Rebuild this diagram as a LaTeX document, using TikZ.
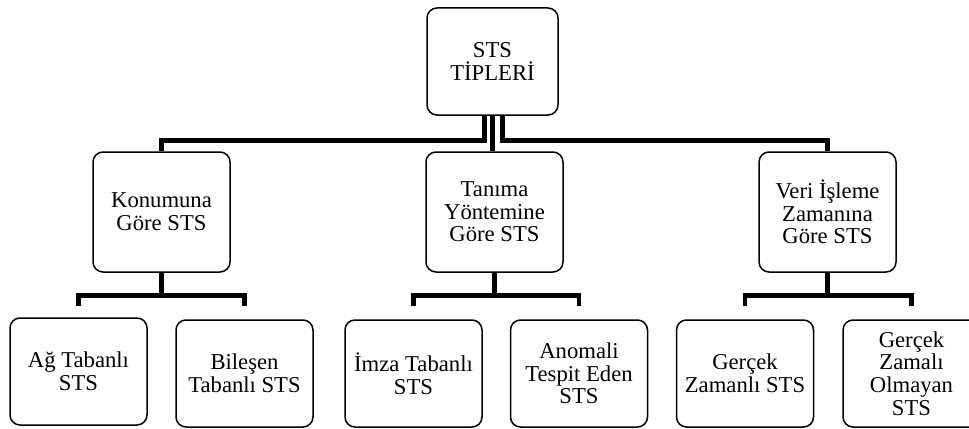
\documentclass[tikz,border=0pt]{standalone}
\usepackage{fontspec}
\setmainfont{Liberation Serif}
\usetikzlibrary{calc}
\newdimen\pxu
\pxu=0.75pt
\tikzset{
  x=0.75pt, y=-0.75pt,
  box/.style={draw=black, line width=1.5\pxu, rounded corners=10\pxu, fill=white,
    minimum width=137\pxu, minimum height=107\pxu, align=center, inner sep=2pt,
    font=\fontsize{17pt}{17pt}\selectfont},
  midbox/.style={box, minimum height=120\pxu},
  topbox/.style={box, minimum width=131\pxu},
  conn/.style={draw=black, line width=4.5\pxu, line join=miter, line cap=butt},
}
\begin{document}
\begin{tikzpicture}
\useasboundingbox (0,0) rectangle (969,428);
\clip (0,0) rectangle (969,428);

% root
\node[topbox] (top) at (492.5,61.5) {STS\\TİPLERİ};

% second level
\node[midbox] (kon)  at (161.5,212) {Konumuna\\Göre STS};
\node[midbox] (tan)  at (494.5,212) {Tanıma\\Yöntemine\\Göre STS};
\node[midbox] (veri) at (827.5,212) {Veri İşleme\\Zamanına\\Göre STS};

% leaves
\node[box] (ag)   at (78.5,371.5)  {Ağ Tabanlı\\STS};
\node[box] (bil)  at (244.5,373.5) {Bileşen\\Tabanlı STS};
\node[box] (imza) at (413.5,373.5) {İmza Tabanlı\\STS};
\node[box] (anom) at (579,373.5)   {Anomali\\Tespit Eden\\STS};
\node[box] (gz)   at (745,373.5)   {Gerçek\\Zamanlı STS};
\node[box] (gzo)  at (911.5,373.5) {Gerçek\\Zamalı\\Olmayan\\STS};

% root to second level
\draw[conn] ([xshift=-8\pxu]top.south) |- ($(kon.north)+(0,-11)$) -- (kon.north);
\draw[conn] (top.south) -- (top.south |- tan.north);
\draw[conn] ([xshift=10\pxu]top.south) |- ($(veri.north)+(0,-11)$) -- (veri.north);

% second level to leaves
\foreach \p/\a/\b in {kon/ag/bil, tan/imza/anom, veri/gz/gzo} {
  \coordinate (\p-bar) at ($(\b.north)+(0,-24)$);
  \draw[conn] (\p.south) -- (\p.south |- \p-bar);
  \draw[conn] ($(\a.north |- \p-bar)+(0,11)$) -- (\a.north |- \p-bar)
              -| ($(\b.north)+(0,-13)$);
}
\end{tikzpicture}
\end{document}
